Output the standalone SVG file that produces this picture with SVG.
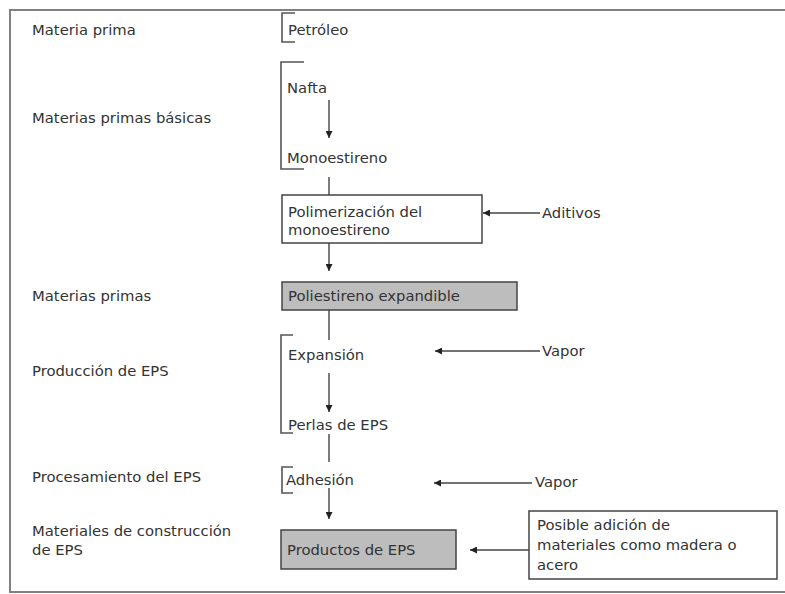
<svg xmlns="http://www.w3.org/2000/svg" width="785" height="594" viewBox="0 0 785 594">
<style>
text{font-family:"DejaVu Sans","Open Sans","Liberation Sans",sans-serif;font-size:14.8px;fill:#333}
.frame{fill:none;stroke:#808080;stroke-width:2}
.ln{fill:none;stroke:#444;stroke-width:1.4}
.br{fill:none;stroke:#555;stroke-width:1.6}
.box{fill:#fff;stroke:#444;stroke-width:1.5}
.gbox{fill:#bdbdbd;stroke:#444;stroke-width:1.5}
</style>
<defs>
<marker id="ah" viewBox="0 0 10 10" refX="10" refY="5" markerWidth="7" markerHeight="7" markerUnits="userSpaceOnUse" orient="auto">
<path d="M0,0 L10,5 L0,10 z" fill="#222"/>
</marker>
</defs>
<rect width="785" height="594" fill="#fff"/>
<path class="frame" d="M785,10 H10 V592 H785"/>

<g id="labels">
<text x="32" y="35">Materia prima</text>
<text x="32" y="123">Materias primas básicas</text>
<text x="32" y="301">Materias primas</text>
<text x="32" y="376">Producción de EPS</text>
<text x="32" y="482">Procesamiento del EPS</text>
<text x="32" y="536">Materiales de construcción</text>
<text x="32" y="555">de EPS</text>
</g>

<g id="petroleo">
<path class="br" d="M295,13 H282 V42 H295"/>
<text x="288" y="35">Petróleo</text>
</g>
<g id="nafta">
<path class="br" d="M304,62 H281 V169 H304"/>
<text x="287" y="93">Nafta</text>
</g>
<g id="monoestireno">
<text x="287" y="163">Monoestireno</text>
</g>
<g id="polimerizacion">
<rect class="box" x="282" y="195" width="200" height="48"/>
<text x="288" y="217">Polimerización del</text>
<text x="288" y="235">monoestireno</text>
</g>
<g id="aditivos"><text x="542" y="218">Aditivos</text></g>
<g id="poliestireno">
<rect class="gbox" x="282" y="282" width="235" height="28"/>
<text x="288" y="301">Poliestireno expandible</text>
</g>
<g id="expansion">
<path class="br" d="M293,335 H281 V433 H293"/>
<text x="288" y="360">Expansión</text>
</g>
<g id="vapor1"><text x="542" y="356">Vapor</text></g>
<g id="perlas">
<text x="288" y="430">Perlas de EPS</text>
</g>
<g id="adhesion">
<path class="br" d="M293,467 H282 V493 H293"/>
<text x="286" y="485">Adhesión</text>
</g>
<g id="vapor2"><text x="535" y="487">Vapor</text></g>
<g id="productos">
<rect class="gbox" x="281" y="530" width="175" height="39"/>
<text x="287" y="555">Productos de EPS</text>
</g>
<g id="posible">
<rect class="box" x="529" y="511" width="248" height="68"/>
<text x="537" y="530">Posible adición de</text>
<text x="537" y="550">materiales como madera o</text>
<text x="537" y="570">acero</text>
</g>

<g id="connectors">
<line class="ln" x1="329" y1="100" x2="329" y2="138" marker-end="url(#ah)"/>
<line class="ln" x1="329" y1="177" x2="329" y2="195"/>
<line class="ln" x1="329" y1="243" x2="329" y2="271" marker-end="url(#ah)"/>
<line class="ln" x1="540" y1="213" x2="483" y2="213" marker-end="url(#ah)"/>
<line class="ln" x1="329" y1="310" x2="329" y2="340"/>
<line class="ln" x1="540" y1="351" x2="435" y2="351" marker-end="url(#ah)"/>
<line class="ln" x1="329" y1="373" x2="329" y2="412" marker-end="url(#ah)"/>
<line class="ln" x1="329" y1="434" x2="329" y2="462"/>
<line class="ln" x1="532" y1="483" x2="434" y2="483" marker-end="url(#ah)"/>
<line class="ln" x1="329" y1="488" x2="329" y2="519" marker-end="url(#ah)"/>
<line class="ln" x1="529" y1="550" x2="470" y2="550" marker-end="url(#ah)"/>
</g>
</svg>
